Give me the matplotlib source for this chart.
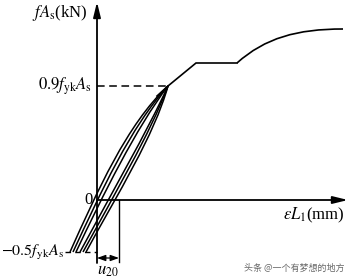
import matplotlib
matplotlib.use("Agg")
import matplotlib.pyplot as plt
from matplotlib.path import Path
from matplotlib.patches import PathPatch

plt.rcParams['mathtext.fontset'] = 'stix'
plt.rcParams['font.family'] = ['Liberation Serif', 'DejaVu Serif']

# force levels (drawing units, not to scale)
F_TOP = 114
F_BOT = -52
X_U20 = 22

# hysteresis branches: start, two bezier controls, end  (x, y)
loops = [
    [(-27, -52), (0, 8), (30, 76), (71, 114)],
    [(-24, -52), (3, 6), (34, 74), (71, 114)],
    [(-21, -52), (6, 5), (39, 72), (71, 114)],
    [(-17, -52), (13, 4), (50, 68), (71, 114)],
    [(-14, -52), (17, 5), (53, 66), (71, 114)],
    [(-11, -52), (21, 7), (57, 64), (71, 114)],
]

# envelope after the cycles
env_line_x = [60, 71, 99, 140]
env_line_y = [104, 114, 137, 137]
env_curve = [(140, 137), (168, 162), (200, 171), (246, 171)]

fig = plt.figure(figsize=(3.5, 2.8), dpi=100)
ax = fig.add_axes([0, 0, 1, 1])
ax.set_xlim(-97, 253)
ax.set_ylim(-80, 200)
ax.axis('off')

# axes with arrows
ax.annotate('', xy=(0, 198), xytext=(0, -63),
            arrowprops=dict(arrowstyle='-|>,head_length=0.9,head_width=0.22',
                            lw=1.3, color='k', shrinkA=0, shrinkB=0))
ax.annotate('', xy=(251, 0), xytext=(0, 0),
            arrowprops=dict(arrowstyle='-|>,head_length=0.9,head_width=0.22',
                            lw=1.3, color='k', shrinkA=0, shrinkB=0))

# loops
cubic = [Path.MOVETO, Path.CURVE4, Path.CURVE4, Path.CURVE4]
for pts in loops:
    ax.add_patch(PathPatch(Path(pts, cubic), fill=False, lw=1.1, ec='k'))

ax.plot(env_line_x, env_line_y, color='k', lw=1.2, solid_joinstyle='miter')
ax.add_patch(PathPatch(Path(env_curve, cubic), fill=False, lw=1.2, ec='k'))

# dashed reference levels
ax.plot([0, 70], [F_TOP, F_TOP], color='k', lw=1.1, dashes=(5, 3))
ax.plot([-32, 0], [F_BOT, F_BOT], color='k', lw=1.0, dashes=(4, 3))

# u20 dimension
ax.plot([X_U20, X_U20], [0, -62], color='k', lw=1.0)
ax.annotate('', xy=(X_U20, -58), xytext=(0, -58),
            arrowprops=dict(arrowstyle='<|-|>,head_length=0.5,head_width=0.18',
                            lw=0.9, color='k', shrinkA=0, shrinkB=0))

# labels
ax.text(-10, 187, r'$fA_{\rm s}$(kN)', fontsize=12, ha='right', va='center')
ax.text(-5, F_TOP, r'$0.9f_{\rm yk}A_{\rm s}$', fontsize=12, ha='right', va='center')
ax.text(-33, F_BOT, r'$-0.5f_{\rm yk}A_{\rm s}$', fontsize=11.5, ha='right', va='center')
ax.text(-4, 0, '0', fontsize=12, ha='right', va='center')
ax.text(248, -15, r'$\varepsilon L_1$(mm)', fontsize=12, ha='right', va='center')
ax.text(11, -71, r'$u_{20}$', fontsize=12, ha='center', va='center')
ax.text(248, -68, '头条 @一个有梦想的地方', fontsize=6.5, color='0.4',
        ha='right', va='center', family=['Noto Sans CJK SC', 'DejaVu Sans'])

fig.savefig('out.png', dpi=100)
